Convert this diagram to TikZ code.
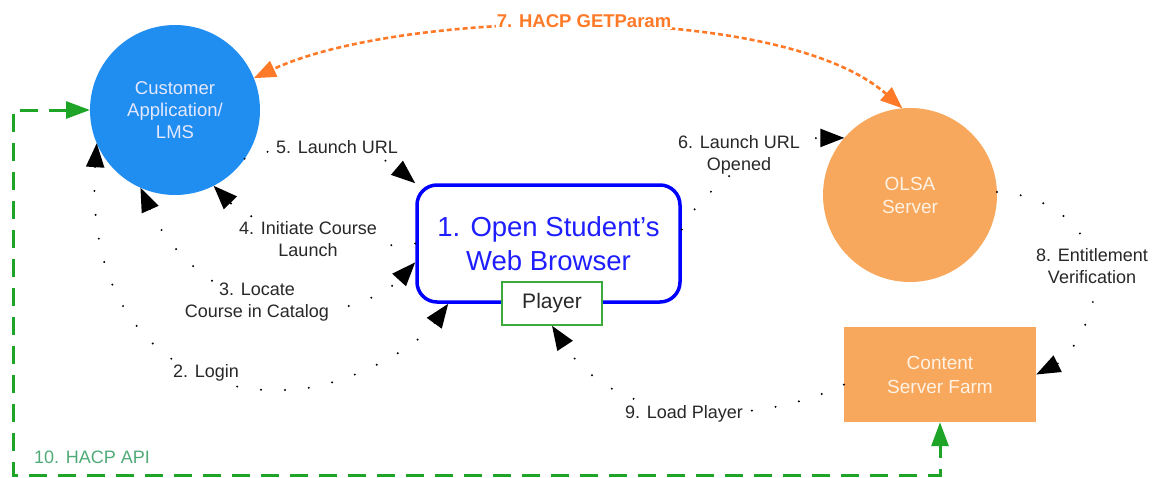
\documentclass[tikz,border=0pt]{standalone}
\usepackage{fontspec}
\setmainfont{Liberation Sans}
\usetikzlibrary{arrows.meta,calc}
\definecolor{custblue}{RGB}{32,142,240}
\definecolor{custtext}{RGB}{228,232,255}
\definecolor{olsaorange}{RGB}{248,168,92}
\definecolor{olsatext}{RGB}{255,242,228}
\definecolor{brblue}{RGB}{0,0,255}
\definecolor{brtext}{RGB}{30,30,255}
\definecolor{plgreen}{RGB}{60,170,60}
\definecolor{hacpgreen}{RGB}{30,165,40}
\definecolor{hacptext}{RGB}{80,170,120}
\definecolor{getorange}{RGB}{255,122,40}
\definecolor{labelgray}{RGB}{40,40,40}
\begin{document}
\begin{tikzpicture}[x=1pt,y=-1pt,
  lbl/.style={font=\fontsize{18}{22}\selectfont, text=labelgray, align=center, fill=white, inner sep=1pt},
  blktip/.tip={Triangle[length=24pt,width=18pt]},
  orgtip/.tip={Triangle[length=22pt,width=17pt]},
  grntip/.tip={Triangle[length=24pt,width=17pt]},
  blk/.style={line width=2.2pt, dash pattern=on 0pt off 24pt, line cap=round, draw=black},
  orng/.style={line width=2.6pt, dash pattern=on 5pt off 3pt, draw=getorange},
  hacp/.style={line width=3pt, dash pattern=on 18pt off 11pt, draw=hacpgreen},
  circ/.style={circle, inner sep=0pt, outer sep=0pt, align=center}
]
\useasboundingbox (0,0) rectangle (1154,477);

% nodes
\node[circ, fill=custblue, minimum size=170pt, text=custtext,
      font=\fontsize{18.5}{22}\selectfont] (cust) at (175,110) {Customer\\Application/\\LMS};
\node[circ, fill=olsaorange, minimum size=174pt, text=olsatext,
      font=\fontsize{19}{23}\selectfont] (olsa) at (910,195) {OLSA\\Server};
\node[rectangle, fill=olsaorange, minimum width=192pt, minimum height=95pt, inner sep=0pt,
      text=olsatext, align=center, font=\fontsize{19}{24}\selectfont] (farm) at (940,374.5) {Content\\Server Farm};
\node[rectangle, rounded corners=20pt, draw=brblue, line width=3.5pt, fill=white,
      minimum width=263pt, minimum height=117pt, inner sep=0pt,
      text=brtext, align=center, font=\fontsize{27.5}{34}\selectfont] (browser) at (548.5,243.5) {1. Open Student's\\Web Browser};
\node[rectangle, draw=plgreen, line width=1.5pt, fill=white, minimum width=100pt, minimum height=43pt,
      inner sep=0pt, text=labelgray, font=\fontsize{21}{24}\selectfont] (player) at (552,303.5) {Player};

% 2. Login
\draw[blk, blktip-blktip] (browser.211) .. controls (415,350) and (340,390) .. (285,390)
   .. controls (180,395) and (85,320) .. (cust.203);
% 3. Locate
\draw[blk, blktip-blktip] (cust.246) .. controls (175,265) and (240,310) .. (300,312)
   .. controls (350,314) and (390,290) .. (browser.188);
% 4. Initiate
\draw[blk, -blktip] (browser.west) .. controls (360,252) and (255,228) .. (cust.297);
% 5. Launch URL
\draw[blk, -blktip] (cust.325) .. controls (290,140) and (370,145) .. (browser.north west);
% 6. Launch URL Opened
\draw[blk, -blktip] (browser.6) .. controls (700,190) and (770,138) .. (olsa.139);
% 8. Entitlement
\draw[blk, -blktip] (olsa.2) .. controls (1060,195) and (1100,240) .. (1095,290)
   .. controls (1090,330) and (1065,360) .. (farm.east);
% 9. Load Player
\draw[blk, -blktip] (farm.186) .. controls (760,425) and (620,430) .. (player.south);
% 7. HACP GETParam
\draw[orng, orgtip-orgtip] (olsa.95) .. controls (780,0) and (400,10) .. (cust.22);
% 10. HACP API
\coordinate (gl) at (13,475);
\draw[hacp, grntip-grntip] (cust.west) -| (gl) -| (farm.south);

% labels
\node[lbl] (l5) at (337,147) {5. Launch URL};
\node[lbl] (l4) at (308,239) {4. Initiate Course\\Launch};
\node[lbl] (l3) at (257,302) {3. Locate\\Course in Catalog};
\node[lbl] (l2) at (206,373) {2. Login};
\node[lbl] (l6) at (739,155) {6. Launch URL\\Opened};
\node[lbl] (l8) at (1092,266) {8. Entitlement\\Verification};
\node[lbl] (l9) at (684,414) {9. Load Player};
\node[lbl, text=getorange, font=\fontsize{18.5}{22}\selectfont\bfseries] (l7) at (584,21) {7. HACP GETParam};
\node[lbl, text=hacptext, fill=none] (l10) at (92,457) {10. HACP API};
\end{tikzpicture}
\end{document}
